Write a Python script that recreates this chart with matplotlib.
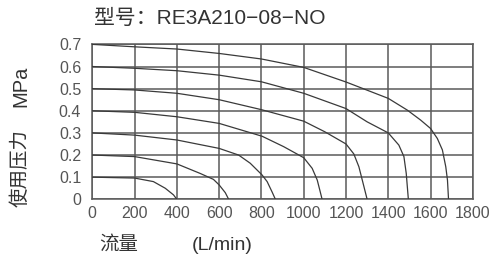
import matplotlib.pyplot as plt

plt.rcParams['font.family'] = ['Liberation Sans', 'Noto Sans CJK SC']

# flow (L/min) vs pressure (MPa), one curve per set pressure
flow_07 = [0, 200, 400, 600, 800, 1000, 1200, 1400, 1490, 1553, 1600, 1632, 1656, 1672, 1680, 1685]
pres_07 = [0.70, 0.689, 0.679, 0.659, 0.634, 0.596, 0.530, 0.456, 0.403, 0.358, 0.320, 0.275, 0.223, 0.147, 0.087, 0.0]

flow_06 = [0, 200, 400, 600, 800, 1000, 1200, 1300, 1400, 1450, 1474, 1485, 1495]
pres_06 = [0.60, 0.592, 0.581, 0.561, 0.531, 0.479, 0.410, 0.350, 0.300, 0.245, 0.193, 0.117, 0.0]

flow_05 = [0, 200, 400, 600, 800, 1000, 1100, 1200, 1237, 1261, 1277, 1300]
pres_05 = [0.50, 0.494, 0.479, 0.450, 0.405, 0.353, 0.305, 0.250, 0.205, 0.147, 0.087, 0.0]

flow_04 = [0, 200, 400, 600, 803, 905, 1000, 1040, 1064, 1076, 1087]
pres_04 = [0.40, 0.393, 0.373, 0.343, 0.285, 0.238, 0.188, 0.140, 0.087, 0.042, 0.0]

flow_03 = [0, 200, 400, 600, 692, 747, 803, 827, 850, 866]
pres_03 = [0.30, 0.290, 0.268, 0.230, 0.200, 0.163, 0.110, 0.080, 0.034, 0.0]

flow_02 = [0, 200, 400, 510, 573, 600, 629, 645]
pres_02 = [0.20, 0.193, 0.160, 0.117, 0.090, 0.065, 0.030, 0.0]

flow_01 = [0, 200, 289, 345, 384, 400]
pres_01 = [0.10, 0.096, 0.080, 0.050, 0.020, 0.0]

curves = [(flow_07, pres_07), (flow_06, pres_06), (flow_05, pres_05), (flow_04, pres_04),
          (flow_03, pres_03), (flow_02, pres_02), (flow_01, pres_01)]

x_ticks = [0, 200, 400, 600, 800, 1000, 1200, 1400, 1600, 1800]
y_ticks = [0, 0.1, 0.2, 0.3, 0.4, 0.5, 0.6, 0.7]
y_ticklabels = ['0', '0.1', '0.2', '0.3', '0.4', '0.5', '0.6', '0.7']

fig = plt.figure(figsize=(4.91, 2.58), dpi=100)
ax = fig.add_axes([0.188, 0.2275, 0.775, 0.6005])

for fl, pr in curves:
    ax.plot(fl, pr, color='#3a3a3a', lw=0.9, zorder=3)

ax.set_xlim(0, 1800)
ax.set_ylim(0, 0.7)
ax.set_xticks(x_ticks)
ax.set_yticks(y_ticks)
ax.set_yticklabels(y_ticklabels)
ax.grid(True, color='#5a5a5a', lw=1.1)
for s in ax.spines.values():
    s.set_color('#5a5a5a')
    s.set_linewidth(1.1)
ax.tick_params(length=0, labelsize=11.5, labelcolor='#555555', pad=5)
ax.tick_params(axis='y', pad=8)

fig.text(0.192, 0.93, '型号：RE3A210−08−NO', fontsize=15, color='#333333',
         ha='left', va='center')
fig.text(0.042, 0.665, 'MPa', fontsize=14.5, color='#333333', rotation=90,
         ha='center', va='center')
fig.text(0.042, 0.35, '使用压力', fontsize=14, color='#333333', rotation=90,
         ha='center', va='center')
fig.text(0.242, 0.05, '流量', fontsize=14, color='#333333', ha='center', va='center')
fig.text(0.452, 0.05, '(L/min)', fontsize=14, color='#333333', ha='center', va='center')

fig.savefig('out.png', dpi=100)
